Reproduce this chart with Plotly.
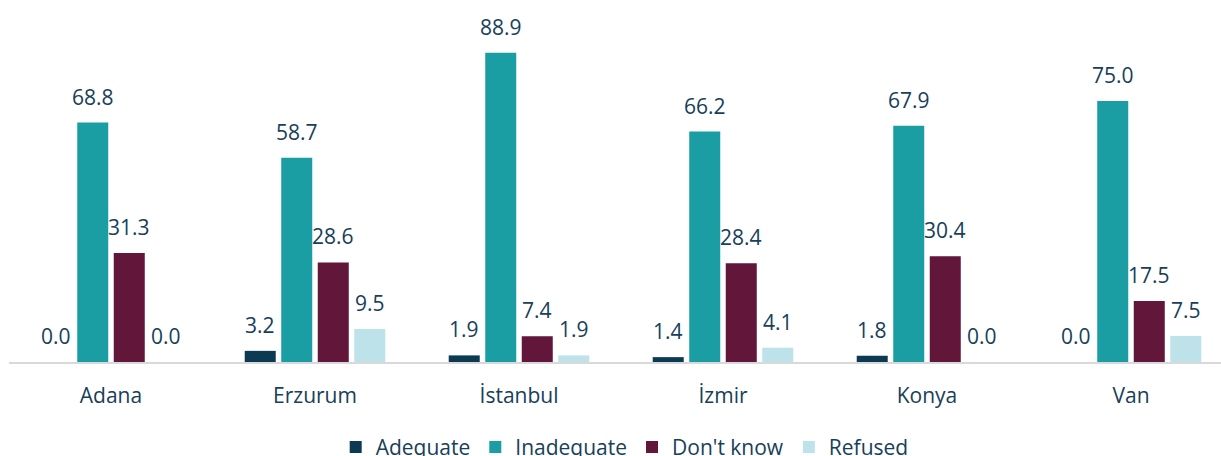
import plotly.graph_objects as go

# Survey results by province (percent)
provinces = ["Adana", "Erzurum", "İstanbul", "İzmir", "Konya", "Van"]
adequate = [0.0, 3.2, 1.9, 1.4, 1.8, 0.0]
inadequate = [68.8, 58.7, 88.9, 66.2, 67.9, 75.0]
dont_know = [31.3, 28.6, 7.4, 28.4, 30.4, 17.5]
refused = [0.0, 9.5, 1.9, 4.1, 0.0, 7.5]

series = [
    ("Adequate", adequate, "#0b3a52"),
    ("Inadequate", inadequate, "#1a9ea3"),
    ("Don't know", dont_know, "#62163a"),
    ("Refused", refused, "#bde2e9"),
]

TEXT = "#17405a"
FONT = "Open Sans"
BAR_W = 0.152
STEP = 0.179
offsets = [-1.5 * STEP, -0.5 * STEP, 0.5 * STEP, 1.5 * STEP]

fig = go.Figure()
annotations = []
for (name, vals, color), off in zip(series, offsets):
    xs = [i + off for i in range(len(provinces))]
    fig.add_trace(go.Bar(
        x=xs, y=vals, name=name, width=BAR_W,
        marker=dict(color=color, line=dict(width=0)),
        hoverinfo="skip",
    ))
    for x, v in zip(xs, vals):
        annotations.append(dict(
            x=x, y=v, xref="x", yref="y", text=f"{v:.1f}",
            showarrow=False, yanchor="bottom", yshift=10,
            font=dict(family=FONT, size=21, color=TEXT),
        ))

fig.update_layout(
    width=1221, height=456,
    margin=dict(l=9, r=0, t=14, b=94, autoexpand=False),
    paper_bgcolor="white", plot_bgcolor="white",
    barmode="overlay",
    annotations=annotations,
    font=dict(family=FONT, size=21, color=TEXT),
    showlegend=True,
    legend=dict(
        orientation="h", x=0.508, xanchor="center",
        y=-0.245, yanchor="middle",
        font=dict(family=FONT, size=21, color=TEXT),
        bgcolor="rgba(0,0,0,0)",
    ),
    xaxis=dict(
        range=[-0.5, 5.5 - 12 / 204],
        tickvals=list(range(len(provinces))), ticktext=provinces,
        showgrid=False, zeroline=False,
        showline=True, linecolor="#d9d9d9", linewidth=2,
        ticks="", ticklabelstandoff=14, layer="below traces",
        tickfont=dict(family=FONT, size=21, color=TEXT),
    ),
    yaxis=dict(range=[0, 100], visible=False, showgrid=False),
)

fig.write_html("out.html")
